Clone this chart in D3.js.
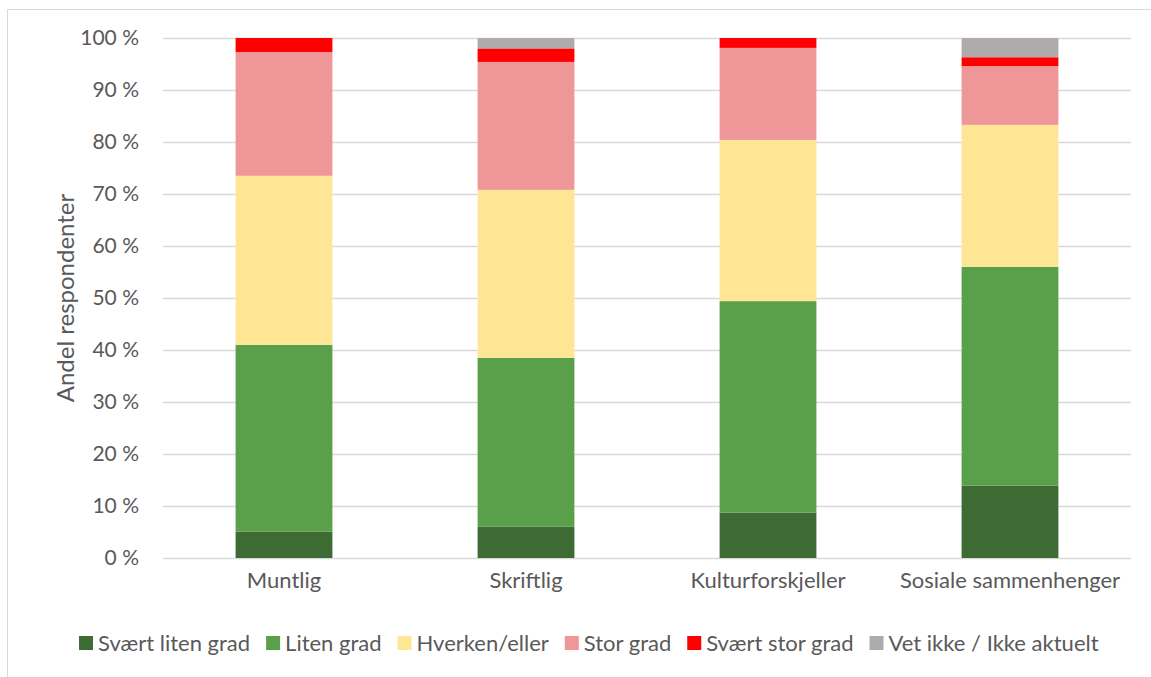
<!DOCTYPE html>
<html>
<head>
<meta charset="utf-8">
<script src="https://cdn.jsdelivr.net/npm/d3@7"></script>
<style>
  html, body { margin: 0; padding: 0; background: #fff; }
  svg { display: block; }
  text { font-family: Lato, "Open Sans", sans-serif; fill: #595959; }
</style>
</head>
<body>
<svg id="chart" width="1151" height="677"></svg>
<script>
// Categories (x axis)
const categories = ["Muntlig", "Skriftlig", "Kulturforskjeller", "Sosiale sammenhenger"];

// Response levels (stack order, bottom to top)
const seriesNames = ["Svært liten grad", "Liten grad", "Hverken/eller", "Stor grad", "Svært stor grad", "Vet ikke / Ikke aktuelt"];
const seriesColors = ["#3d6b33", "#5aa04b", "#ffe694", "#ee9698", "#ff0000", "#afabab"];

// Share of respondents (%) per level, one value per category
const svaertLiten = [5.1, 6.0, 8.7, 13.9];
const liten       = [35.9, 32.5, 40.7, 42.1];
const hverken     = [32.5, 32.3, 31.0, 27.3];
const stor        = [23.8, 24.6, 17.7, 11.3];
const svaertStor  = [2.7, 2.6, 1.9, 1.7];
const vetIkke     = [0.0, 2.0, 0.0, 3.7];

const yTicks = [0, 10, 20, 30, 40, 50, 60, 70, 80, 90, 100];
const yTitle = "Andel respondenter";

const seriesValues = [svaertLiten, liten, hverken, stor, svaertStor, vetIkke];
const rows = categories.map((c, i) => {
  const r = { category: c };
  seriesNames.forEach((s, j) => { r[s] = seriesValues[j][i]; });
  return r;
});

const svg = d3.select("#chart");
const W = 1151, H = 677;
const margin = { left: 163, right: 20, top: 38, bottom: 119 };
const FONT = "Lato, 'Open Sans', sans-serif";

// chart frame
svg.append("rect")
  .attr("x", 7.5).attr("y", 9.5)
  .attr("width", W + 10).attr("height", H + 10)
  .attr("fill", "none").attr("stroke", "#d9d9d9").attr("stroke-width", 1);

const x = d3.scaleBand()
  .domain(categories)
  .range([margin.left, W - margin.right])
  .paddingInner(0.6).paddingOuter(0.3);

const y = d3.scaleLinear()
  .domain([0, 100])
  .range([H - margin.bottom, margin.top]);

// gridlines
svg.append("g")
  .selectAll("line")
  .data(yTicks)
  .join("line")
  .attr("x1", margin.left).attr("x2", W - margin.right)
  .attr("y1", d => Math.round(y(d)) + 0.5).attr("y2", d => Math.round(y(d)) + 0.5)
  .attr("stroke", "#d9d9d9").attr("stroke-width", 1.3);

// y axis labels
const yAxis = d3.axisLeft(y).tickValues(yTicks).tickSize(0).tickPadding(0)
  .tickFormat(d => d + " %");
const gy = svg.append("g").attr("transform", `translate(139,0)`).call(yAxis);
gy.select(".domain").remove();
gy.selectAll("text").style("font-size", "21px").style("fill", "#595959")
  .style("font-family", FONT);

// y axis title
svg.append("text")
  .attr("transform", `translate(66,${(y(0) + y(100)) / 2}) rotate(-90)`)
  .attr("text-anchor", "middle")
  .attr("dy", "0.35em")
  .style("font-size", "24px")
  .text(yTitle);

// stacked bars
const stack = d3.stack().keys(seriesNames)(rows);
const color = d3.scaleOrdinal().domain(seriesNames).range(seriesColors);

svg.append("g")
  .selectAll("g")
  .data(stack)
  .join("g")
  .attr("fill", d => color(d.key))
  .selectAll("rect")
  .data(d => d)
  .join("rect")
  .attr("x", d => x(d.data.category))
  .attr("width", x.bandwidth())
  .attr("y", d => y(d[1]))
  .attr("height", d => Math.max(0, y(d[0]) - y(d[1])));

// x axis labels
const xAxis = d3.axisBottom(x).tickSize(0).tickPadding(0);
const gx = svg.append("g").attr("transform", `translate(0,${y(0) + 22})`).call(xAxis);
gx.select(".domain").remove();
gx.selectAll("text").style("font-size", "22px").style("fill", "#595959")
  .style("font-family", FONT)
  .attr("dy", "0.35em");

// legend
const legend = svg.append("g").attr("transform", "translate(0,643)");
const items = legend.selectAll("g").data(seriesNames).join("g");
items.append("rect")
  .attr("width", 14).attr("height", 14).attr("y", -7)
  .attr("fill", d => color(d));
items.append("text")
  .attr("x", 19).attr("dy", "0.35em")
  .style("font-size", "22px")
  .text(d => d);
let cx = 79;
items.each(function () {
  const g = d3.select(this);
  g.attr("transform", `translate(${cx},0)`);
  const w = g.select("text").node().getComputedTextLength();
  cx += 19 + w + 16;
});
</script>
</body>
</html>
